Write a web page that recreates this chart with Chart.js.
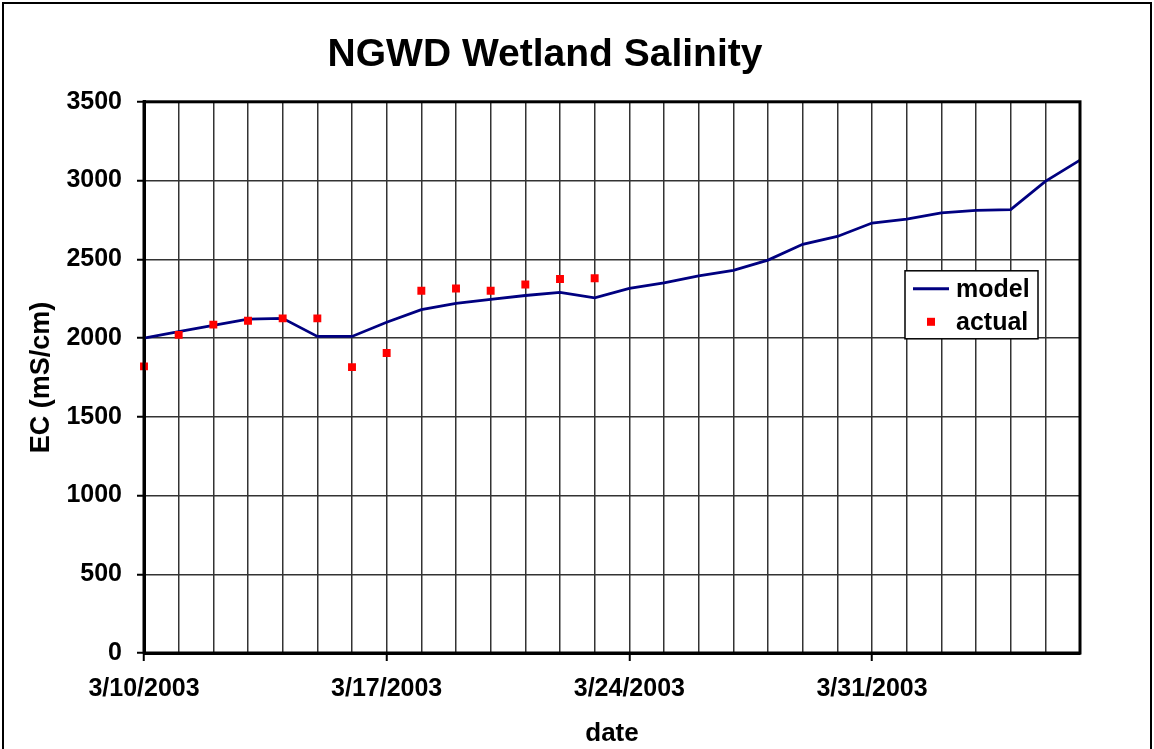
<!DOCTYPE html>
<html>
<head>
<meta charset="utf-8">
<title>NGWD Wetland Salinity</title>
<script src="https://cdn.jsdelivr.net/npm/chart.js@4/dist/chart.umd.min.js"></script>
<style>
  html, body { margin: 0; padding: 0; background: #ffffff; }
  #wrap { position: relative; width: 1154px; height: 749px; }
</style>
</head>
<body>
<div id="wrap"><canvas id="chart" width="1154" height="749"></canvas></div>
<script>
// Daily dates on the x axis
const dates = [
  '3/10/2003', '3/11/2003', '3/12/2003', '3/13/2003', '3/14/2003', '3/15/2003', '3/16/2003',
  '3/17/2003', '3/18/2003', '3/19/2003', '3/20/2003', '3/21/2003', '3/22/2003', '3/23/2003',
  '3/24/2003', '3/25/2003', '3/26/2003', '3/27/2003', '3/28/2003', '3/29/2003', '3/30/2003',
  '3/31/2003', '4/1/2003', '4/2/2003', '4/3/2003', '4/4/2003', '4/5/2003', '4/6/2003'
];

// Modelled electrical conductivity (mS/cm), one value per day
const modelEC = [
  2000, 2040, 2080, 2120, 2125, 2010, 2010,
  2100, 2180, 2220, 2245, 2270, 2290, 2255,
  2315, 2350, 2395, 2430, 2495, 2595, 2645,
  2730, 2755, 2795, 2810, 2815, 2995, 3130
];

// Measured conductivity (mS/cm), first two weeks only
const actualEC = [
  1820, 2020, 2085, 2110, 2125, 2125, 1815,
  1905, 2300, 2315, 2300, 2340, 2375, 2380
];

// Y axis range and tick spacing
const yMin = 0;
const yMax = 3500;
const yStep = 500;

const FONT = "'Liberation Sans', Arial, sans-serif";
const NAVY = '#000080';
const RED = '#ff0000';

// Outer frame, plot area border and the boxed legend
const framePlugin = {
  id: 'frame',
  beforeDraw(chart) {
    const ctx = chart.ctx;
    ctx.save();
    ctx.fillStyle = '#ffffff';
    ctx.fillRect(0, 0, chart.width, chart.height);
    ctx.restore();
  },
  afterDraw(chart) {
    const ctx = chart.ctx;
    const a = chart.chartArea;
    ctx.save();
    // plot area border
    ctx.strokeStyle = '#000000';
    ctx.lineWidth = 3;
    ctx.strokeRect(a.left, a.top, a.right - a.left, a.bottom - a.top);
    // outer frame
    ctx.lineWidth = 2;
    ctx.strokeRect(3, 3, chart.width - 6, chart.height + 10);

    // legend
    const bx = a.right - 175, by = a.top + 169, bw = 133, bh = 68;
    ctx.fillStyle = '#ffffff';
    ctx.fillRect(bx, by, bw, bh);
    ctx.lineWidth = 1.5;
    ctx.strokeStyle = '#000000';
    ctx.strokeRect(bx, by, bw, bh);

    const ds = chart.data.datasets;
    const row1 = by + 18, row2 = by + 51;
    ctx.strokeStyle = ds[0].borderColor;
    ctx.lineWidth = 3;
    ctx.beginPath();
    ctx.moveTo(bx + 8, row1);
    ctx.lineTo(bx + 44, row1);
    ctx.stroke();
    ctx.fillStyle = ds[1].backgroundColor;
    ctx.fillRect(bx + 22, row2 - 4, 8, 8);

    ctx.fillStyle = '#000000';
    ctx.font = 'bold 25px ' + FONT;
    ctx.textBaseline = 'middle';
    ctx.textAlign = 'left';
    ctx.fillText(ds[0].label, bx + 51, row1 + 1);
    ctx.fillText(ds[1].label, bx + 51, row2 + 1);
    ctx.restore();
  }
};

new Chart(document.getElementById('chart'), {
  type: 'line',
  data: {
    labels: dates,
    datasets: [
      {
        label: 'model',
        data: modelEC,
        borderColor: NAVY,
        backgroundColor: NAVY,
        borderWidth: 2.8,
        pointRadius: 0,
        tension: 0,
        fill: false,
        order: 2
      },
      {
        label: 'actual',
        data: actualEC,
        showLine: false,
        borderColor: RED,
        backgroundColor: RED,
        pointStyle: 'rect',
        pointRadius: 5.6,
        pointBorderWidth: 0,
        order: 1
      }
    ]
  },
  options: {
    responsive: false,
    animation: false,
    devicePixelRatio: 1,
    layout: { padding: { left: 10, right: 74, top: 0, bottom: 0 } },
    plugins: {
      legend: { display: false },
      tooltip: { enabled: false },
      title: {
        display: true,
        text: 'NGWD Wetland Salinity',
        color: '#000000',
        font: { family: FONT, size: 39, weight: 'bold', lineHeight: 1.2 },
        padding: { top: 32, bottom: 23 }
      }
    },
    scales: {
      x: {
        type: 'category',
        offset: false,
        grid: {
          display: true,
          color: '#333333',
          lineWidth: 1.5,
          drawTicks: true,
          tickLength: 8,
          tickWidth: 2,
          tickColor: (c) => (c.index % 7 === 0 ? '#000000' : 'rgba(0,0,0,0)')
        },
        border: { display: true, color: '#000000', width: 3 },
        ticks: {
          autoSkip: false,
          maxRotation: 0,
          minRotation: 0,
          padding: 13,
          color: '#000000',
          font: { family: FONT, size: 25, weight: 'bold' },
          callback: function (value, index) {
            return index % 7 === 0 ? this.getLabelForValue(value) : '';
          }
        },
        title: {
          display: true,
          text: 'date',
          color: '#000000',
          font: { family: FONT, size: 26, weight: 'bold', lineHeight: 1.2 },
          padding: { top: 0, bottom: 0 }
        },
        afterFit: (scale) => { scale.height = 96; }
      },
      y: {
        min: yMin,
        max: yMax,
        grid: {
          display: true,
          color: '#333333',
          lineWidth: 1.5,
          drawTicks: true,
          tickLength: 7,
          tickWidth: 2,
          tickColor: '#000000'
        },
        border: { display: true, color: '#000000', width: 3 },
        ticks: {
          stepSize: yStep,
          padding: 15,
          color: '#000000',
          font: { family: FONT, size: 25, weight: 'bold' },
          callback: (value) => String(value)
        },
        title: {
          display: true,
          text: 'EC (mS/cm)',
          color: '#000000',
          font: { family: FONT, size: 27, weight: 'bold', lineHeight: 1.2 },
          padding: { top: 15, bottom: 0 }
        },
        afterFit: (scale) => { scale.width = 134; }
      }
    }
  },
  plugins: [framePlugin]
});
</script>
</body>
</html>
